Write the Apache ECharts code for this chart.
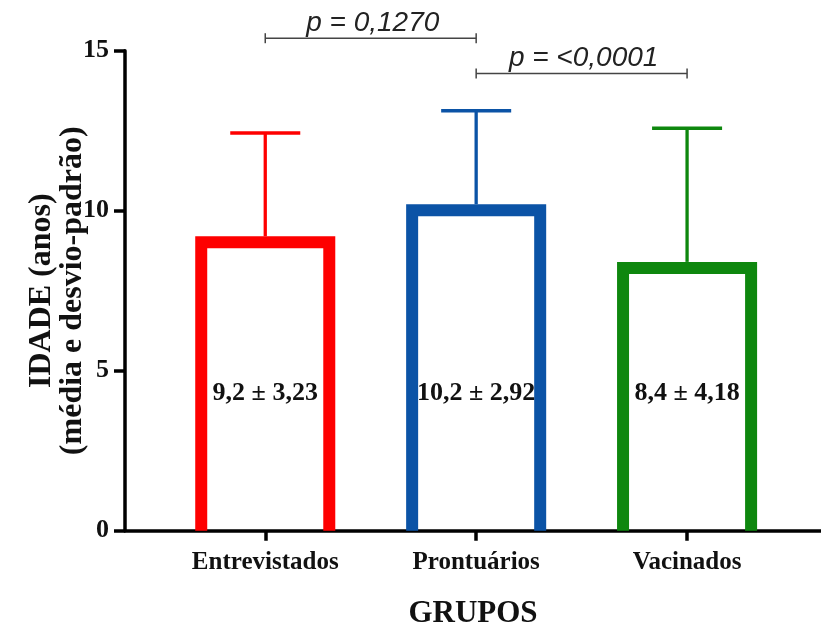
<!DOCTYPE html>
<html>
<head>
<meta charset="utf-8">
<script src="https://cdn.jsdelivr.net/npm/echarts@6/dist/echarts.min.js"></script>
<style>
  html, body { margin: 0; padding: 0; background: #fff; }
  #chart { width: 821px; height: 627px; }
</style>
</head>
<body>
<div id="chart"></div>
<script>
// Age (mean ± SD) by group
const categories = ['Entrevistados', 'Prontuários', 'Vacinados'];
const means = [9.2, 10.2, 8.4];
const sds = [3.23, 2.92, 4.18];
const yTicks = [0, 5, 10, 15];

// Pairwise comparisons (group indices) and their p-values
const compFrom = [0, 1];
const compTo = [1, 2];
const pTexts = ['p = 0,1270', 'p = <0,0001'];

// Styling / layout
const colors = ['#fe0000', '#0b53a6', '#0e870e'];
const SERIF = '"Liberation Serif", "Times New Roman", serif';
const SANS = '"Liberation Sans", Arial, sans-serif';
const BAR_W = 0.664;     // bar width in x units
const CAP_W = 0.332;     // error-cap width in x units
const BORDER = 12;       // bar outline thickness (px)
const LABEL_Y = 4.3;     // where the value text sits inside bars
const BRACKET_Y = [15.39, 14.29];

const fmt = (v, d) => v.toFixed(d).replace('.', ',');

const barData = categories.map((c, i) => [i + 1, means[i], sds[i], i]);
const compData = compFrom.map((f, k) => [f + 1, compTo[k] + 1, k]);

const chart = echarts.init(document.getElementById('chart'), null, { renderer: 'canvas' });

chart.setOption({
  animation: false,
  backgroundColor: '#fff',
  grid: { left: 125, top: 50.7, right: 0, height: 480, outerBoundsMode: 'none', containLabel: false },
  xAxis: {
    type: 'value',
    min: 0.335,
    max: 3.635,
    splitLine: { show: false },
    axisLine: { lineStyle: { color: '#000', width: 3.5 } },
    axisTick: { customValues: [1, 2, 3], length: 10, lineStyle: { color: '#000', width: 3.5 } },
    axisLabel: {
      customValues: [1, 2, 3],
      formatter: v => categories[Math.round(v) - 1] || '',
      fontFamily: SERIF, fontWeight: 'bold', fontSize: 25, color: '#111', margin: 19
    },
    name: 'GRUPOS',
    nameLocation: 'middle',
    nameGap: 68,
    nameMoveOverlap: false,
    nameTextStyle: { fontFamily: SERIF, fontWeight: 'bold', fontSize: 31, color: '#111' }
  },
  yAxis: {
    type: 'value',
    min: yTicks[0],
    max: yTicks[yTicks.length - 1],
    interval: 5,
    splitLine: { show: false },
    axisLine: { show: true, lineStyle: { color: '#000', width: 3.5 } },
    axisTick: { show: true, length: 11, lineStyle: { color: '#000', width: 3.5 } },
    axisLabel: { fontFamily: SERIF, fontWeight: 'bold', fontSize: 26, color: '#111', margin: 16 },
    name: 'IDADE (anos)\n(média e desvio-padrão)',
    nameLocation: 'middle',
    nameRotate: 90,
    nameGap: 37,
    nameMoveOverlap: false,
    nameTextStyle: {
      fontFamily: SERIF, fontWeight: 'bold', fontSize: 32, lineHeight: 31, color: '#111', align: 'center'
    }
  },
  series: [
    {
      type: 'custom',
      clip: false,
      data: barData,
      renderItem: (params, api) => {
        const x = api.value(0), m = api.value(1), s = api.value(2), i = api.value(3);
        const base = api.coord([x, 0]);
        const top = api.coord([x, m]);
        const hi = api.coord([x, m + s]);
        const w = api.size([BAR_W, 0])[0];
        const cw = api.size([CAP_W, 0])[0];
        const L = base[0] - w / 2 + BORDER / 2;
        const R = base[0] + w / 2 - BORDER / 2;
        const c = colors[i];
        const lab = api.coord([x, LABEL_Y]);
        return {
          type: 'group',
          children: [
            {
              type: 'line',
              shape: { x1: base[0], y1: top[1], x2: base[0], y2: hi[1] },
              style: { stroke: c, lineWidth: 3.3 }
            },
            {
              type: 'line',
              shape: { x1: base[0] - cw / 2, y1: hi[1], x2: base[0] + cw / 2, y2: hi[1] },
              style: { stroke: c, lineWidth: 3.5 }
            },
            {
              type: 'polyline',
              shape: { points: [[L, base[1]], [L, top[1] + BORDER / 2], [R, top[1] + BORDER / 2], [R, base[1]]] },
              style: { stroke: c, fill: null, lineWidth: BORDER, lineJoin: 'miter', lineCap: 'butt' }
            },
            {
              type: 'text',
              x: lab[0], y: lab[1],
              style: {
                text: fmt(m, 1) + ' ± ' + fmt(s, 2),
                fill: '#111',
                font: 'bold 26px ' + SERIF,
                align: 'center',
                verticalAlign: 'middle'
              }
            }
          ]
        };
      }
    },
    {
      type: 'custom',
      clip: false,
      data: compData,
      renderItem: (params, api) => {
        const a = api.value(0), b = api.value(1), k = api.value(2);
        const p1 = api.coord([a, BRACKET_Y[k]]);
        const p2 = api.coord([b, BRACKET_Y[k]]);
        const col = '#444';
        return {
          type: 'group',
          children: [
            { type: 'line', shape: { x1: p1[0], y1: p1[1], x2: p2[0], y2: p2[1] }, style: { stroke: col, lineWidth: 1.5 } },
            { type: 'line', shape: { x1: p1[0], y1: p1[1] - 5, x2: p1[0], y2: p1[1] + 5 }, style: { stroke: col, lineWidth: 1.5 } },
            { type: 'line', shape: { x1: p2[0], y1: p2[1] - 5, x2: p2[0], y2: p2[1] + 5 }, style: { stroke: col, lineWidth: 1.5 } },
            {
              type: 'text',
              x: (p1[0] + p2[0]) / 2 + 2,
              y: p1[1] - 15,
              style: {
                text: pTexts[k],
                fill: '#222',
                font: 'italic 28px ' + SANS,
                align: 'center',
                verticalAlign: 'middle'
              }
            }
          ]
        };
      }
    }
  ]
});
</script>
</body>
</html>
